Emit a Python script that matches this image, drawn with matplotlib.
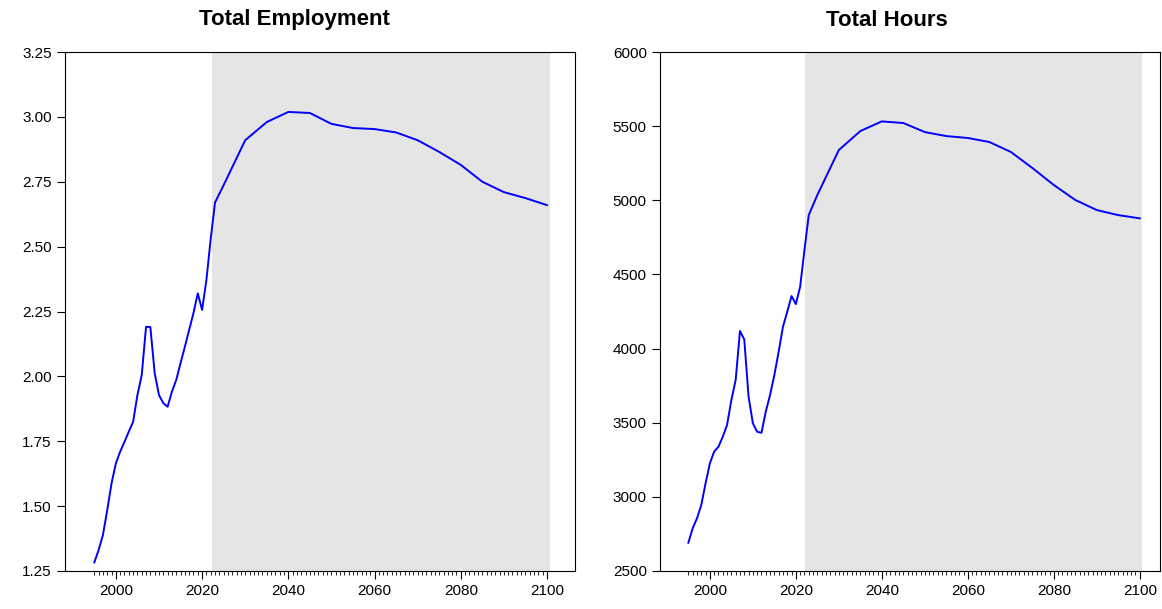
import matplotlib
matplotlib.use("Agg")
import matplotlib.pyplot as plt
from matplotlib.ticker import MultipleLocator, FixedLocator

plt.rcParams['font.family'] = ['Liberation Sans', 'DejaVu Sans']

years = list(range(1995, 2024)) + [2025, 2030, 2035, 2040, 2045, 2050, 2055, 2060, 2065, 2070, 2075, 2080, 2085, 2090, 2095, 2100]
employment = [1.283, 1.331, 1.389, 1.485, 1.588, 1.665, 1.71, 1.748, 1.787, 1.825,
              1.928, 2.005, 2.191, 2.190, 2.013, 1.928, 1.897, 1.883, 1.941, 1.986,
              2.051, 2.114, 2.179, 2.244, 2.32, 2.256, 2.371, 2.53, 2.67,
              2.737, 2.91, 2.98, 3.019, 3.015, 2.973, 2.957, 2.953, 2.94, 2.91,
              2.865, 2.815, 2.75, 2.71, 2.687, 2.66]
hours = [2691, 2788, 2855, 2945, 3091, 3226, 3305, 3338, 3406, 3485,
         3653, 3788, 4118, 4062, 3676, 3496, 3439, 3432, 3574, 3687,
         3822, 3979, 4147, 4249, 4354, 4300, 4417, 4665, 4900,
         5036, 5339, 5467, 5532, 5521, 5460, 5433, 5420, 5393, 5326,
         5218, 5103, 5002, 4934, 4900, 4878]

panels = [("Total Employment", employment, (1.25, 3.25), 0.25, "{:.2f}", (1988.2, 2106.5), 294),
          ("Total Hours", hours, (2500, 6000), 500, "{:.0f}", (1988.4, 2104.7), 887)]

fig = plt.figure(figsize=(11.62, 6.09), dpi=100)
rects = [(65/1162, 38/609, 510/1162, 519/609), (660/1162, 38/609, 500/1162, 519/609)]
for rect, (title, vals, ylim, step, fmt, xlim, tx) in zip(rects, panels):
    ax = fig.add_axes(rect)
    ax.axvspan(2022.2, 2100.6, color='#e5e5e5', lw=0, zorder=0)
    ax.plot(years, vals, color='blue', lw=1.4, zorder=2)
    ax.set_xlim(*xlim)
    ax.xaxis.set_major_locator(MultipleLocator(20))
    ax.xaxis.set_minor_locator(FixedLocator(list(range(1995, 2101))))
    ax.yaxis.set_major_locator(MultipleLocator(step))
    ax.yaxis.set_major_formatter(matplotlib.ticker.FuncFormatter(lambda v, p, f=fmt: f.format(v)))
    ax.set_ylim(*ylim)
    ax.tick_params(axis='both', which='major', length=6, labelsize=11, direction='out')
    ax.tick_params(axis='x', which='minor', length=3)
    fig.text(tx/1162, 1 - 20/609, title, fontsize=16, fontweight='bold', ha='center', va='center')
    for s in ax.spines.values():
        s.set_linewidth(0.8)
fig.savefig("out.png", dpi=100)
